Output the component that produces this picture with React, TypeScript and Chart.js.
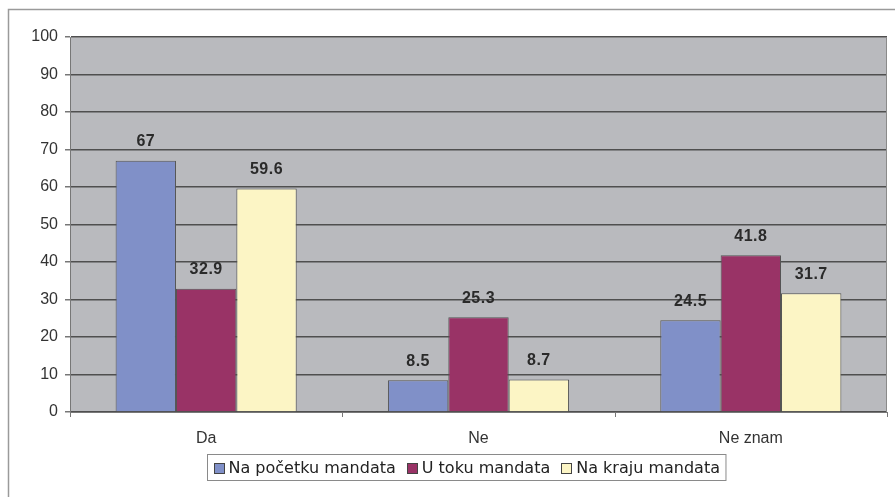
import React, { useEffect, useRef } from "react";
import { Chart, registerables } from "chart.js";

Chart.register(...registerables);

const categories = ["Da", "Ne", "Ne znam"];
const seriesNames = ["Na početku mandata", "U toku mandata", "Na kraju mandata"];
const naPocetku = [67, 8.5, 24.5];
const uToku = [32.9, 25.3, 41.8];
const naKraju = [59.6, 8.7, 31.7];
const seriesColors = ["#8090c8", "#993366", "#fcf5c5"];
const yTicks = [0, 10, 20, 30, 40, 50, 60, 70, 80, 90, 100];

const FONT = "Arial, 'Liberation Sans', sans-serif";

const framePlugin = {
  id: "framePlugin",
  beforeDraw(chart: any) {
    const { ctx, chartArea } = chart;
    ctx.save();
    ctx.fillStyle = "#ffffff";
    ctx.fillRect(0, 0, chart.width, chart.height);
    ctx.strokeStyle = "#9a9a9a";
    ctx.lineWidth = 1.5;
    ctx.beginPath();
    ctx.moveTo(8.5, chart.height);
    ctx.lineTo(8.5, 9.5);
    ctx.lineTo(chart.width, 9.5);
    ctx.stroke();
    ctx.fillStyle = "#b9babe";
    ctx.fillRect(chartArea.left, chartArea.top, chartArea.right - chartArea.left, chartArea.bottom - chartArea.top);
    ctx.restore();
  },
  afterDraw(chart: any) {
    const { ctx, chartArea } = chart;
    ctx.save();
    ctx.strokeStyle = "#8a8a8a";
    ctx.lineWidth = 1;
    ctx.beginPath();
    ctx.moveTo(chartArea.left, chartArea.top + 0.5);
    ctx.lineTo(chartArea.right - 0.5, chartArea.top + 0.5);
    ctx.lineTo(chartArea.right - 0.5, chartArea.bottom);
    ctx.stroke();

    // x-axis tick marks at category boundaries
    const xs = chart.scales.x;
    ctx.strokeStyle = "#777777";
    ctx.beginPath();
    for (let i = 0; i <= categories.length; i++) {
      const px = Math.round(xs.left + (i * (xs.right - xs.left)) / categories.length) + 0.5;
      ctx.moveTo(px, chartArea.bottom);
      ctx.lineTo(px, chartArea.bottom + 5);
    }
    ctx.stroke();

    // data labels
    ctx.fillStyle = "#2a2a2a";
    ctx.font = "bold 16px " + FONT;
    try { (ctx as any).letterSpacing = "0.5px"; } catch (e) {}
    ctx.textAlign = "center";
    ctx.textBaseline = "middle";
    chart.data.datasets.forEach((ds: any, di: number) => {
      const meta = chart.getDatasetMeta(di);
      meta.data.forEach((bar: any, i: number) => {
        ctx.fillText(String(ds.data[i]), bar.x, bar.y - 19);
      });
    });
    try { (ctx as any).letterSpacing = "0px"; } catch (e) {}

    // legend
    ctx.font = "16px 'DejaVu Sans', sans-serif";
    ctx.textBaseline = "middle";
    ctx.textAlign = "left";
    const sq = 10;
    const gapSqText = 5;
    const gapItems = 11;
    const widths = chart.data.datasets.map((ds: any) => ctx.measureText(ds.label).width);
    let total = 0;
    widths.forEach((w: number, i: number) => {
      total += sq + gapSqText + w + (i < widths.length - 1 ? gapItems : 0);
    });
    const padX = 6;
    const boxW = total + padX * 2;
    const cx = 466;
    const boxL = Math.round(cx - boxW / 2) + 0.5;
    const boxT = 454.5;
    const boxH = 26;
    ctx.fillStyle = "#ffffff";
    ctx.fillRect(boxL, boxT, boxW, boxH);
    ctx.strokeStyle = "#8a8a8a";
    ctx.lineWidth = 1;
    ctx.strokeRect(boxL, boxT, boxW, boxH);
    let x = boxL + padX;
    const cy = boxT + boxH / 2;
    chart.data.datasets.forEach((ds: any, i: number) => {
      ctx.fillStyle = ds.backgroundColor;
      ctx.fillRect(Math.round(x) + 0.5, Math.round(cy - sq / 2) + 0.5, sq, sq);
      ctx.strokeStyle = "#444444";
      ctx.strokeRect(Math.round(x) + 0.5, Math.round(cy - sq / 2) + 0.5, sq, sq);
      x += sq + gapSqText;
      ctx.fillStyle = "#222222";
      ctx.fillText(ds.label, x, cy + 1);
      x += widths[i] + gapItems;
    });
    ctx.restore();
  },
};

export default function App() {
  const ref = useRef<HTMLCanvasElement>(null);
  useEffect(() => {
    if (!ref.current) return;
    const values = [naPocetku, uToku, naKraju];
    const chart = new Chart(ref.current, {
      type: "bar",
      data: {
        labels: categories,
        datasets: seriesNames.map((name, i) => ({
          label: name,
          data: values[i],
          backgroundColor: seriesColors[i],
          borderColor: "#555555",
          borderWidth: 1,
          barPercentage: 1,
          categoryPercentage: 0.665,
        })),
      },
      options: {
        animation: false,
        responsive: false,
        maintainAspectRatio: false,
        layout: { padding: { left: 8, right: 8, top: 37, bottom: 45 } },
        plugins: { legend: { display: false }, tooltip: { enabled: false } },
        scales: {
          x: {
            grid: { display: false, drawTicks: false },
            border: { display: true, color: "#777777", width: 1 },
            ticks: {
              color: "#333333",
              font: { family: FONT, size: 16 },
              padding: 17,
            },
            afterFit(scale: any) {
              scale.height = 40;
            },
          },
          y: {
            min: 0,
            max: 100,
            afterBuildTicks(scale: any) {
              scale.ticks = yTicks.map((v) => ({ value: v }));
            },
            grid: {
              color: "#4f4f4f",
              lineWidth: 1.5,
              tickLength: 5,
              tickColor: "#777777",
            },
            border: { display: true, color: "#777777", width: 1 },
            ticks: {
              color: "#333333",
              font: { family: FONT, size: 16 },
              padding: 7,
            },
            afterFit(scale: any) {
              scale.width = 62;
            },
          },
        },
      },
      plugins: [framePlugin],
    });
    return () => chart.destroy();
  }, []);
  return (
    <div style={{ position: "fixed", left: 0, top: 0, width: 895, height: 497 }}>
      <canvas ref={ref} width={895} height={497} style={{ display: "block" }} />
    </div>
  );
}
